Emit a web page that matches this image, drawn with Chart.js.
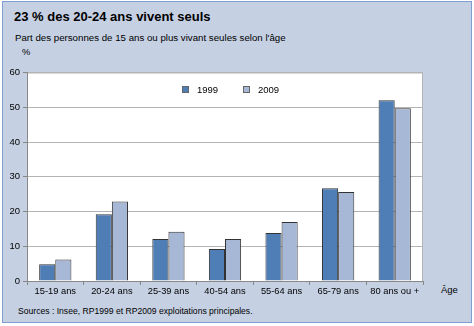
<!DOCTYPE html>
<html lang="fr">
<head>
<meta charset="utf-8">
<title>23 % des 20-24 ans vivent seuls</title>
<script src="https://cdn.jsdelivr.net/npm/chart.js@4/dist/chart.umd.min.js"></script>
<style>
    body { margin: 0; background: #ffffff; font-family: "Liberation Sans", Arial, sans-serif; }
    .frame {
        position: absolute; left: 2px; top: 1px; width: 470px; height: 322px;
        box-sizing: border-box; border: 1px solid #7f9fd2; background: #c5d0e3;
    }
    .txt { position: absolute; color: #000; white-space: nowrap; }
    #title { left: 14px; top: 9px; font-size: 13px; font-weight: bold; }
    #subtitle { left: 15px; top: 32px; font-size: 9.7px; }
    #unit { left: 22px; top: 47px; font-size: 9.3px; }
    #age { left: 441px; top: 284px; font-size: 9.5px; }
    #source { left: 18px; top: 306px; font-size: 8.6px; }
    canvas { position: absolute; left: 0; top: 0; }
</style>
</head>
<body>
<div class="frame"></div>
<div class="txt" id="title">23 % des 20-24 ans vivent seuls</div>
<div class="txt" id="subtitle">Part des personnes de 15 ans ou plus vivant seules selon l'âge</div>
<div class="txt" id="unit">%</div>
<div class="txt" id="age">Âge</div>
<div class="txt" id="source">Sources : Insee, RP1999 et RP2009 exploitations principales.</div>
<canvas id="chart" width="474" height="326"></canvas>
<script>
// Tranches d'âge et parts (en %) de personnes vivant seules
const ageGroups = ['15-19 ans', '20-24 ans', '25-39 ans', '40-54 ans', '55-64 ans', '65-79 ans', '80 ans ou +'];
const share1999 = [4.8, 19.2, 12.1, 9.2, 13.8, 26.7, 52.0];
const share2009 = [6.2, 22.9, 14.2, 12.1, 17.0, 25.6, 49.7];
const yTicks = [0, 10, 20, 30, 40, 50, 60];

const FONT = '"Liberation Sans", Arial, sans-serif';

// fond blanc + cadre gris de la zone de tracé
const plotFrame = {
    id: 'plotFrame',
    beforeDraw(chart) {
        const { ctx, chartArea: a } = chart;
        ctx.save();
        ctx.fillStyle = '#ffffff';
        ctx.fillRect(a.left, a.top, a.right - a.left, a.bottom - a.top);
        ctx.strokeStyle = '#b4b4b4';
        ctx.lineWidth = 1;
        ctx.beginPath();
        ctx.moveTo(a.left, a.top + 0.5);
        ctx.lineTo(a.right - 0.5, a.top + 0.5);
        ctx.lineTo(a.right - 0.5, a.bottom);
        ctx.stroke();
        ctx.restore();
    }
};

// légende posée dans la zone de tracé
const innerLegend = {
    id: 'innerLegend',
    afterDraw(chart) {
        const ctx = chart.ctx;
        const xs = [182, 243];
        const y = 86;
        ctx.save();
        ctx.font = '9.5px ' + FONT;
        ctx.textBaseline = 'middle';
        chart.data.datasets.forEach((ds, i) => {
            ctx.fillStyle = ds.backgroundColor;
            ctx.fillRect(xs[i], y, 7, 7);
            ctx.strokeStyle = '#666666';
            ctx.lineWidth = 1;
            ctx.strokeRect(xs[i] + 0.5, y + 0.5, 6, 6);
            ctx.fillStyle = '#000000';
            ctx.fillText(ds.label, xs[i] + 15, y + 4);
        });
        ctx.restore();
    }
};

new Chart(document.getElementById('chart'), {
    type: 'bar',
    data: {
        labels: ageGroups,
        datasets: [
            {
                label: '1999',
                data: share1999,
                backgroundColor: '#4f7db6',
                borderColor: '#333333',
                borderWidth: 1
            },
            {
                label: '2009',
                data: share2009,
                backgroundColor: '#a7b8d7',
                borderColor: '#333333',
                borderWidth: 1
            }
        ]
    },
    options: {
        responsive: false,
        animation: false,
        layout: { padding: { left: 0, top: 72.5, right: 51, bottom: 25 } },
        datasets: { bar: { barPercentage: 1, categoryPercentage: 0.57 } },
        plugins: {
            legend: { display: false },
            tooltip: { enabled: false }
        },
        scales: {
            x: {
                afterFit: scale => { scale.height = 20; },
                border: { color: '#888888' },
                grid: {
                    drawOnChartArea: false,
                    drawTicks: true,
                    tickLength: 4,
                    tickColor: '#888888'
                },
                ticks: {
                    color: '#000000',
                    padding: 1,
                    maxRotation: 0,
                    autoSkip: false,
                    font: { family: FONT, size: 9.3 }
                }
            },
            y: {
                min: 0,
                max: 60,
                afterFit: scale => { scale.width = 27; },
                afterBuildTicks: scale => { scale.ticks = yTicks.map(v => ({ value: v })); },
                border: { color: '#888888' },
                grid: {
                    color: '#b4b4b4',
                    tickLength: 4,
                    tickColor: '#888888'
                },
                ticks: {
                    color: '#000000',
                    padding: 3,
                    font: { family: FONT, size: 9.5 }
                }
            }
        }
    },
    plugins: [plotFrame, innerLegend]
});
</script>
</body>
</html>
